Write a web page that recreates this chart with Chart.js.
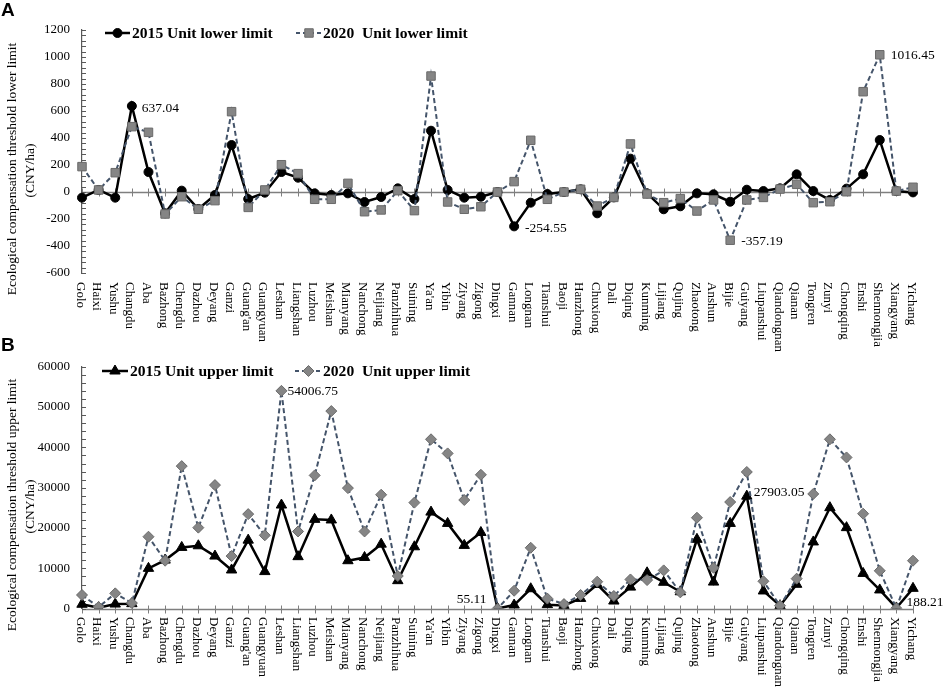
<!DOCTYPE html>
<html><head><meta charset="utf-8">
<script src="https://cdn.jsdelivr.net/npm/chart.js@4.4.1/dist/chart.umd.min.js"></script>
<style>
html,body{margin:0;padding:0;background:#fff;}
#wrap{position:relative;width:948px;height:696px;background:#fff;}
canvas{position:absolute;left:0;top:0;}
</style></head><body>
<div id="wrap"><canvas id="cA" width="948" height="696"></canvas><canvas id="cB" width="948" height="696"></canvas></div>
<script>
const categories = ["Golo","Haixi","Yushu","Changdu","Aba","Bazhong","Chengdu","Dazhou","Deyang","Ganzi","Guang'an","Guangyuan","Leshan","Liangshan","Luzhou","Meishan","Mianyang","Nanchong","Neijiang","Panzhihua","Suining","Ya'an","Yibin","Ziyang","Zigong","Dingxi","Gannan","Longnan","Tianshui","Baoji","Hanzhong","Chuxiong","Dali","Diqing","Kunming","Lijiang","Qujing","Zhaotong","Anshun","Bijie","Guiyang","Liupanshui","Qiandongnan","Qianan","Tongren","Zunyi","Chongqing","Enshi","Shennongjia","Xiangyang","Yichang"];

const lower2015 = [-42,15,-42,637.04,148,-158,10,-126,-22,348,-52,-5,148,106,-10,-22,-10,-74,-37,27,-52,454,15,-42,-35,0,-254.55,-79,-15,0,20,-158,-40,247,-10,-128,-106,-10,-17,-72,17,7,27,131,7,-59,25,131,385,7,-3];
const lower2020 = [188,15,143,484,442,-163,-35,-128,-64,595,-114,15,202,136,-54,-54,64,-146,-133,10,-138,859,-74,-128,-109,0,77,383,-54,0,20,-104,-40,356,-15,-79,-49,-141,-59,-357.19,-59,-40,22,57,-79,-72,2,743,1016.45,7,35];
const upper2015 = [1100,250,1150,1250,10000,12050,15200,15600,13050,9600,17000,9200,25700,12900,22150,22000,11900,12700,16000,6950,15350,23950,21150,15700,18900,55.11,900,4950,1000,800,2550,6000,1900,5350,8900,6550,4200,17200,6600,21150,27903.05,4400,750,6050,16550,25050,20100,8750,4650,188.21,5050];
const upper2020 = [3400,400,3800,1400,17850,11900,35350,20100,30650,13050,23450,18200,54006.75,19150,33050,49000,29900,19150,28250,8100,26300,42000,38500,26950,33200,0,4450,15100,2500,1150,3400,6700,3150,7250,7100,9500,4050,22550,10150,26450,33900,6800,750,7450,28450,42000,37500,23550,9400,100,11900];

const seriesNamesA = ["2015 Unit lower limit","2020  Unit lower limit"];
const seriesNamesB = ["2015 Unit upper limit","2020  Unit upper limit"];
const yTitleA = ["Ecological compensation threshold lower limit","(CNY/ha)"];
const yTitleB = ["Ecological compensation threshold upper limit","(CNY/ha)"];
const yRangeA = [-600,1200], yStepA = 200, yMinorA = 40;
const yRangeB = [0,60000], yStepB = 10000, yMinorB = 2000;
const annotA = [["Changdu",0],["Shennongjia",1],["Gannan",0],["Bijie",1]];
const annotB = [["Leshan",1],["Guiyang",0],["Dingxi",0],["Xiangyang",0]];

const SERIF = "'Liberation Serif','Times New Roman',serif";
const SANS = "'Liberation Sans',Arial,sans-serif";
const DASH_COLOR = '#44546A';
const GRAY_FILL = '#858585';
const GRAY_EDGE = '#6a6a6a';

function marker(ctx, style, x, y, r, fill, stroke){
  ctx.save();
  ctx.fillStyle = fill; ctx.strokeStyle = stroke; ctx.lineWidth = 1;
  ctx.beginPath();
  if(style==='circle'){ ctx.arc(x,y,r,0,Math.PI*2); }
  else if(style==='rect'){ const s=r*Math.SQRT1_2; ctx.rect(x-s,y-s,2*s,2*s); }
  else if(style==='triangle'){ ctx.moveTo(x,y-r); ctx.lineTo(x+r*Math.sin(2*Math.PI/3),y-r*Math.cos(2*Math.PI/3)); ctx.lineTo(x+r*Math.sin(4*Math.PI/3),y-r*Math.cos(4*Math.PI/3)); ctx.closePath(); }
  else if(style==='rectRot'){ ctx.moveTo(x-r,y); ctx.lineTo(x,y-r); ctx.lineTo(x+r,y); ctx.lineTo(x,y+r); ctx.closePath(); }
  ctx.fill(); ctx.stroke();
  ctx.restore();
}

function makePlugin(p){
  return {
    id:'decor'+p.key,
    beforeDatasetsDraw(chart){
      const ctx=chart.ctx, xs=chart.scales.x, ys=chart.scales.y, ca=chart.chartArea;
      const y0=Math.round(ys.getPixelForValue(0))+0.5;
      ctx.save();
      ctx.strokeStyle='#7f7f7f'; ctx.lineWidth=1.5;
      ctx.beginPath(); ctx.moveTo(ca.left,y0); ctx.lineTo(ca.right,y0); ctx.stroke();
      ctx.lineWidth=1;
      categories.forEach((c,i)=>{ const px=Math.round(xs.getPixelForValue(i))+0.5; ctx.beginPath(); ctx.moveTo(px,y0-4); ctx.lineTo(px,y0+4); ctx.stroke(); });
      ctx.strokeStyle='#595959';
      for(let v=p.range[0]; v<=p.range[1]+1e-6; v+=p.minor){
        const py=Math.round(ys.getPixelForValue(v))+0.5;
        ctx.beginPath(); ctx.moveTo(ca.left,py); ctx.lineTo(ca.left+4,py); ctx.stroke();
      }
      ctx.restore();
    },
    afterDraw(chart){
      const ctx=chart.ctx, xs=chart.scales.x, ys=chart.scales.y, ca=chart.chartArea;
      ctx.save();
      // category labels
      ctx.fillStyle='#000'; ctx.font='13px '+SERIF; ctx.textAlign='left'; ctx.textBaseline='middle';
      categories.forEach((c,i)=>{ const px=xs.getPixelForValue(i)-2; ctx.save(); ctx.translate(px,p.labelTop); ctx.rotate(Math.PI/2); ctx.fillText(c,0,0); ctx.restore(); });
      // y title
      ctx.font='13.5px '+SERIF; ctx.textAlign='center';
      p.title.forEach((t,k)=>{ ctx.save(); ctx.translate(12+18*k,p.titleY+(k?1.5:0)); ctx.rotate(-Math.PI/2); ctx.fillText(t,0,0); ctx.restore(); });
      // panel letter
      ctx.font='bold 19px '+SANS; ctx.textAlign='left'; ctx.fillText(p.letter,1,p.letterY);
      // legend
      ctx.font='bold 15.6px '+SERIF; ctx.textBaseline='middle';
      p.legend.forEach(L=>{
        ctx.save();
        ctx.strokeStyle=L.color; ctx.lineWidth=L.width; ctx.setLineDash(L.dash||[]);
        ctx.beginPath(); ctx.moveTo(L.x0,p.legendY); ctx.lineTo(L.x1,p.legendY); ctx.stroke();
        ctx.restore();
        marker(ctx,L.style,(L.x0+L.x1)/2,p.legendY,L.r,L.fill,L.stroke);
        ctx.fillStyle='#000'; ctx.fillText(L.text,L.tx,p.legendY+0.5);
      });
      // data labels
      ctx.font='13.5px '+SERIF;
      p.annot.forEach(a=>{
        const i=categories.indexOf(a.cat);
        const el=chart.getDatasetMeta(a.ds).data[i];
        const val=chart.data.datasets[a.ds].data[i];
        ctx.textAlign=a.align||'left';
        ctx.fillText(val.toFixed(2),el.x+a.dx,el.y+a.dy);
      });
      ctx.restore();
    }
  };
}

function buildChart(id, d15, d20, p, style15, style20, r15, r20){
  const [ymin,ymax]=p.range;
  return new Chart(document.getElementById(id),{
    type:'line',
    data:{labels:categories,datasets:[
      {label:p.names[0],data:d15,borderColor:'#000',borderWidth:2.5,pointStyle:style15,pointRadius:r15,pointBackgroundColor:'#000',pointBorderColor:'#000',pointBorderWidth:1,tension:0,order:1},
      {label:p.names[1],data:d20,borderColor:DASH_COLOR,borderWidth:2,borderDash:[5,3],pointStyle:style20,pointRadius:r20,pointBackgroundColor:GRAY_FILL,pointBorderColor:GRAY_EDGE,pointBorderWidth:1,tension:0,order:0}
    ]},
    options:{
      responsive:false,animation:false,
      layout:{padding:{left:0,right:35,top:p.top,bottom:0}},
      plugins:{legend:{display:false},tooltip:{enabled:false}},
      scales:{
        x:{type:'category',offset:false,ticks:{display:false},grid:{display:false},border:{display:false},afterFit(s){s.height=696-p.bottom;}},
        y:{min:ymin,max:ymax,ticks:{stepSize:p.step,color:'#000',font:{family:SERIF,size:13},padding:12,callback:v=>String(v)},grid:{display:false,drawTicks:false},border:{display:true,color:'#595959',width:1.2},afterFit(s){s.width=82;}}
      }
    },
    plugins:[makePlugin(p)]
  });
}

buildChart('cA', lower2015, lower2020, {
  key:'A', range:yRangeA, step:yStepA, minor:yMinorA, top:30, bottom:273, labelTop:282,
  title:yTitleA, titleY:169, letter:'A', letterY:11, names:seriesNamesA, legendY:33,
  legend:[
    {x0:105,x1:130,color:'#000',width:2.5,style:'circle',r:4.5,fill:'#000',stroke:'#000',text:seriesNamesA[0],tx:132},
    {x0:296,x1:322,color:DASH_COLOR,width:2,dash:[4,3],style:'rect',r:6,fill:GRAY_FILL,stroke:GRAY_EDGE,text:seriesNamesA[1],tx:323}
  ],
  annot:[
    {cat:annotA[0][0],ds:annotA[0][1],dx:10,dy:2},
    {cat:annotA[1][0],ds:annotA[1][1],dx:11,dy:1},
    {cat:annotA[2][0],ds:annotA[2][1],dx:11,dy:2},
    {cat:annotA[3][0],ds:annotA[3][1],dx:11,dy:1}
  ]
}, 'circle','rect',4.5,6);

buildChart('cB', upper2015, upper2020, {
  key:'B', range:yRangeB, step:yStepB, minor:yMinorB, top:366.7, bottom:608.7, labelTop:617,
  title:yTitleB, titleY:505, letter:'B', letterY:346, names:seriesNamesB, legendY:371,
  legend:[
    {x0:102,x1:128,color:'#000',width:2.5,style:'triangle',r:6,fill:'#000',stroke:'#000',text:seriesNamesB[0],tx:130},
    {x0:295,x1:322,color:DASH_COLOR,width:2,dash:[4,3],style:'rectRot',r:5.5,fill:GRAY_FILL,stroke:GRAY_EDGE,text:seriesNamesB[1],tx:323}
  ],
  annot:[
    {cat:annotB[0][0],ds:annotB[0][1],dx:6,dy:1},
    {cat:annotB[1][0],ds:annotB[1][1],dx:7,dy:-4},
    {cat:annotB[2][0],ds:annotB[2][1],dx:-11,dy:-9,align:'right'},
    {cat:annotB[3][0],ds:annotB[3][1],dx:10,dy:-5}
  ]
}, 'triangle','rectRot',6,5.5);
</script>
</body></html>
